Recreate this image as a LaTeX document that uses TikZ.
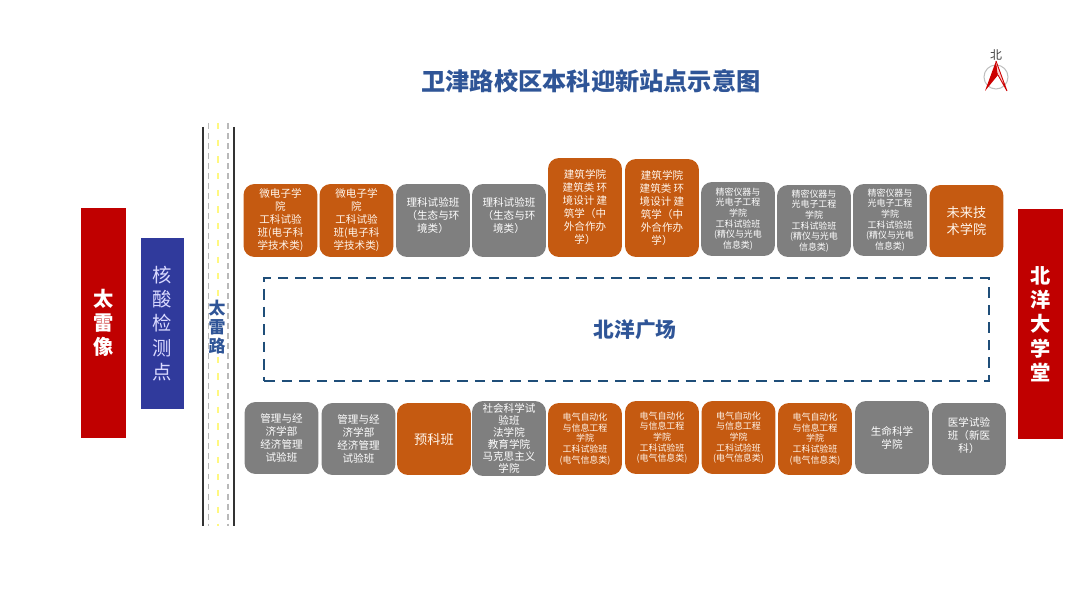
\documentclass[tikz,border=0pt]{standalone}
\usepackage{fontspec}
\setmainfont{Noto Sans CJK SC}
\definecolor{boxorange}{HTML}{C55A11}
\definecolor{boxgray}{HTML}{7F7F7F}
\definecolor{gaterd}{HTML}{C00000}
\definecolor{testblue}{HTML}{303A9C}
\definecolor{titleblue}{HTML}{2F5597}
\definecolor{squareblue}{HTML}{1F4E79}
\tikzset{
  stall/.style={rounded corners=0.22cm,inner sep=0pt,align=center,text=white,minimum width=1.48cm},
  orangebox/.style={stall,fill=boxorange,text=orange!8},
  graybox/.style={stall,fill=boxgray},
  smalltext/.style={font=\fontsize{5.1}{6.05}\selectfont},
  midtext/.style={font=\fontsize{6}{7.4}\selectfont},
  tighttext/.style={font=\fontsize{6}{6.9}\selectfont},
  bigtext/.style={font=\fontsize{7.5}{9.4}\selectfont},
  gate/.style={inner sep=0pt,align=center,text=white,font=\fontsize{11.5}{13.8}\selectfont\bfseries},
  lanemark/.style={gray!55,line width=0.8pt,dash pattern=on 3.4pt off 2.3pt}
}
\begin{document}
\begin{tikzpicture}[x=0.02cm,y=-0.02cm]
\useasboundingbox (0,0) rectangle (1080,607);
\node[font=\fontsize{13.8}{16}\selectfont\bfseries,text=titleblue] (title) at (591,81) {卫津路校区本科迎新站点示意图};
% compass
\draw[gray!50,line width=0.6pt] (996,77) circle (12);
\coordinate (tip) at (996,61);
\coordinate (leftfoot) at (985,91);
\coordinate (rightfoot) at (1007,91);
\coordinate (notch) at (998,75);
\fill[red!80!black] (tip) -- (leftfoot) -- (notch) -- cycle;
\fill[red!20] (tip) -- (rightfoot) -- (notch) -- cycle;
\draw[red!80!black,line width=0.5pt,line join=bevel] (tip) -- (rightfoot) -- (notch);
\node[font=\fontsize{6.8}{8}\selectfont,text=black!75,inner sep=0pt] (north) at (996,55) {北};
% road
\draw[black!80,line width=1.2pt] (203,127) -- (203,526);
\draw[black!80,line width=1.2pt] (234,127) -- (234,526);
\draw[yellow!50!white,line width=1.1pt,dash pattern=on 3.5pt off 6pt] (218,123) -- (218,526);
\node[fill=white,inner sep=0.5pt,align=center,text=titleblue,font=\fontsize{9.6}{10.8}\selectfont\bfseries] (roadname) at (217,327) {太\\雷\\路};
\draw[lanemark] (208.5,123) -- (208.5,526);
\draw[lanemark] (228,123) -- (228,526);
% gates
\node[gate,fill=gaterd,minimum width=0.9cm,minimum height=4.6cm] (taileixiang) at (103.5,323) {太\\雷\\像};
\node[gate,fill=gaterd,minimum width=0.9cm,minimum height=4.6cm] (beiyanghall) at (1040.5,324) {北\\洋\\大\\学\\堂};
\node[fill=testblue,inner sep=0pt,align=center,text=white!85!blue,minimum width=0.86cm,minimum height=3.42cm,font=\fontsize{11}{13.8}\selectfont] (testpoint) at (162.5,323.5) {核\\酸\\检\\测\\点};
% square
\node[draw=squareblue,line width=1.1pt,dash pattern=on 6pt off 4pt,minimum width=14.5cm,minimum height=2.06cm] (square) at (626.5,329.5) {};
\node[text=titleblue,font=\fontsize{11.8}{14}\selectfont\bfseries] (squarename) at (635,330) {北洋广场};
% top row
\node[orangebox,midtext,minimum height=1.46cm] (micro1) at (280.5,220.5) {微电子学\\院\\工科试验\\班(电子科\\学技术类)};
\node[orangebox,midtext,minimum height=1.46cm] (micro2) at (356.5,220.5) {微电子学\\院\\工科试验\\班(电子科\\学技术类)};
\node[graybox,midtext,minimum height=1.46cm] (sci1) at (433,220.5) {理科试验班\\（生态与环\\境类）\\[-1pt]};
\node[graybox,midtext,minimum height=1.46cm] (sci2) at (509,220.5) {理科试验班\\（生态与环\\境类）\\[-1pt]};
\node[orangebox,midtext,minimum height=1.98cm] (arch1) at (585,207.5) {建筑学院\\建筑类 环\\境设计 建\\筑学（中\\外合作办\\学）};
\node[orangebox,midtext,minimum height=1.96cm] (arch2) at (662,208) {建筑学院\\建筑类 环\\境设计 建\\筑学（中\\外合作办\\学）};
\node[graybox,smalltext,minimum height=1.48cm] (prec1) at (738,219) {精密仪器与\\光电子工程\\学院\\工科试验班\\(精仪与光电\\信息类)};
\node[graybox,smalltext,minimum height=1.44cm] (prec2) at (814,221) {精密仪器与\\光电子工程\\学院\\工科试验班\\(精仪与光电\\信息类)};
\node[graybox,smalltext,minimum height=1.44cm] (prec3) at (890,220) {精密仪器与\\光电子工程\\学院\\工科试验班\\(精仪与光电\\信息类)};
\node[orangebox,bigtext,minimum height=1.44cm] (future) at (966.5,221) {未来技\\术学院};
% bottom row
\node[graybox,midtext,minimum height=1.44cm] (econ1) at (281.5,438) {管理与经\\济学部\\经济管理\\试验班};
\node[graybox,midtext,minimum height=1.44cm] (econ2) at (358.5,439) {管理与经\\济学部\\经济管理\\试验班};
\node[orangebox,bigtext,minimum height=1.44cm] (prep) at (434,439) {预科班};
\node[graybox,tighttext,minimum height=1.5cm] (social) at (509,438.5) {社会科学试\\验班\\法学院\\教育学院\\马克思主义\\学院};
\node[orangebox,smalltext,minimum height=1.44cm] (elec1) at (585,439) {电气自动化\\与信息工程\\学院\\工科试验班\\(电气信息类)};
\node[orangebox,smalltext,minimum height=1.46cm] (elec2) at (662,437.5) {电气自动化\\与信息工程\\学院\\工科试验班\\(电气信息类)};
\node[orangebox,smalltext,minimum height=1.46cm] (elec3) at (738.5,437.5) {电气自动化\\与信息工程\\学院\\工科试验班\\(电气信息类)};
\node[orangebox,smalltext,minimum height=1.44cm] (elec4) at (815,439) {电气自动化\\与信息工程\\学院\\工科试验班\\(电气信息类)};
\node[graybox,midtext,minimum height=1.46cm] (life) at (892,437.5) {生命科学\\学院};
\node[graybox,midtext,minimum height=1.44cm] (med) at (969,439) {医学试验\\班（新医\\科）\\[-3.4pt]};
\end{tikzpicture}
\end{document}
